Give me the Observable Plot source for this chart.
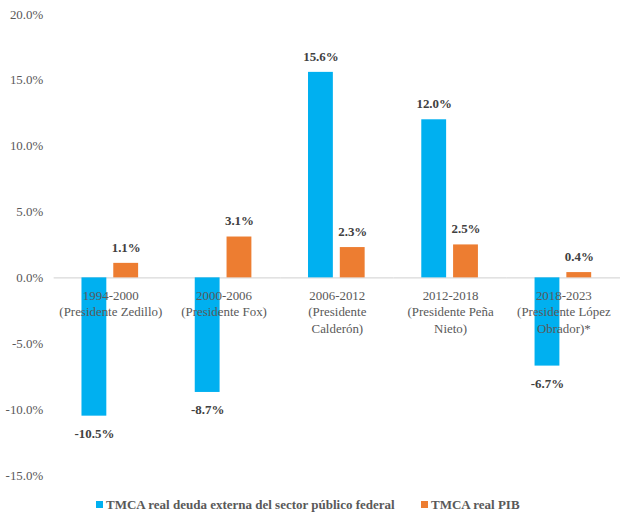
<!DOCTYPE html>
<html>
<head>
<meta charset="utf-8">
<script src="https://cdn.jsdelivr.net/npm/d3@7"></script>
<script src="https://cdn.jsdelivr.net/npm/@observablehq/plot@0.6"></script>
<style>
  html, body { margin: 0; padding: 0; background: #fff; overflow: hidden; }
  #wrap { position: relative; width: 621px; height: 516px; font-family: "Liberation Serif", serif; }
  #legend { position: absolute; top: 497px; left: 0; width: 621px; height: 18px; font-weight: bold; font-size: 13px; color: #595959; }
  .item { position: absolute; top: 0; white-space: nowrap; }
  .sw { display: inline-block; width: 7px; height: 7px; margin-right: 3px; vertical-align: 1px; }
</style>
</head>
<body>
<div id="wrap">
  <div id="chart"></div>
  <div id="legend"></div>
</div>
<script>
const periods = ["1994-2000", "2000-2006", "2006-2012", "2012-2018", "2018-2023"];
const categoryLabels = [
  "1994-2000\n(Presidente Zedillo)",
  "2000-2006\n(Presidente Fox)",
  "2006-2012\n(Presidente\nCalderón)",
  "2012-2018\n(Presidente Peña\nNieto)",
  "2018-2023\n(Presidente López\nObrador)*"
];
const seriesNames = ["TMCA real deuda externa del sector público federal", "TMCA real PIB"];
const deudaValues = [-10.5, -8.7, 15.6, 12.0, -6.7];
const pibValues = [1.1, 3.1, 2.3, 2.5, 0.4];
const yTicks = [-15, -10, -5, 0, 5, 10, 15, 20];
const colors = ["#00B0F0", "#ED7D31"];
const FONT = "'Liberation Serif', serif";

const rows = [];
periods.forEach((p, i) => {
  rows.push({period: p, series: seriesNames[0], value: deudaValues[i]});
  rows.push({period: p, series: seriesNames[1], value: pibValues[i]});
});
const labels = periods.map((p, i) => ({period: p, label: categoryLabels[i]}));
const fmt = v => v.toFixed(1) + "%";

const chart = Plot.plot({
  width: 625,
  height: 490,
  marginLeft: 52,
  marginRight: 0,
  marginTop: 14,
  marginBottom: 12,
  style: {fontSize: "13px", color: "#595959", background: "#fff"},
  fx: {domain: periods, padding: 0, axis: null, label: null},
  x: {domain: seriesNames, paddingInner: 0.212, paddingOuter: 0.842, axis: null, label: null},
  y: {domain: [-15, 20], ticks: yTicks, tickFormat: fmt, tickSize: 0, tickPadding: 11, label: null, fontSize: 13},
  color: {domain: seriesNames, range: colors},
  marks: [
    Plot.ruleY([0], {stroke: "#d9d9d9", strokeWidth: 1.3}),
    Plot.barY(rows, {fx: "period", x: "series", y: "value", fill: "series"}),
    Plot.text(rows.filter(d => d.value >= 0), {fx: "period", x: "series", y: "value", text: d => fmt(d.value), dy: -16, fontWeight: "bold", fill: "#404040", fontSize: 13}),
    Plot.text(rows.filter(d => d.value < 0), {fx: "period", x: "series", y: "value", text: d => fmt(d.value), dy: 18, fontWeight: "bold", fill: "#404040", fontSize: 13}),
    Plot.text(labels, {fx: "period", y: () => 0, text: "label", lineAnchor: "top", dy: 10, lineHeight: 1.3, fill: "#595959", fontSize: 13})
  ]
});
document.getElementById("chart").appendChild(chart);
chart.style.setProperty("font-family", FONT, "important");
chart.querySelectorAll("g, text, tspan").forEach(el => {
  el.removeAttribute("font-family");
  el.style.setProperty("font-family", FONT, "important");
});

const legend = document.getElementById("legend");
const lefts = [96, 421];
seriesNames.forEach((s, i) => {
  const it = document.createElement("div");
  it.className = "item";
  it.style.left = lefts[i] + "px";
  it.style.setProperty("font-family", FONT, "important");
  const sw = document.createElement("span");
  sw.className = "sw";
  sw.style.background = colors[i];
  it.appendChild(sw);
  it.appendChild(document.createTextNode(s));
  legend.appendChild(it);
});
</script>
</body>
</html>
